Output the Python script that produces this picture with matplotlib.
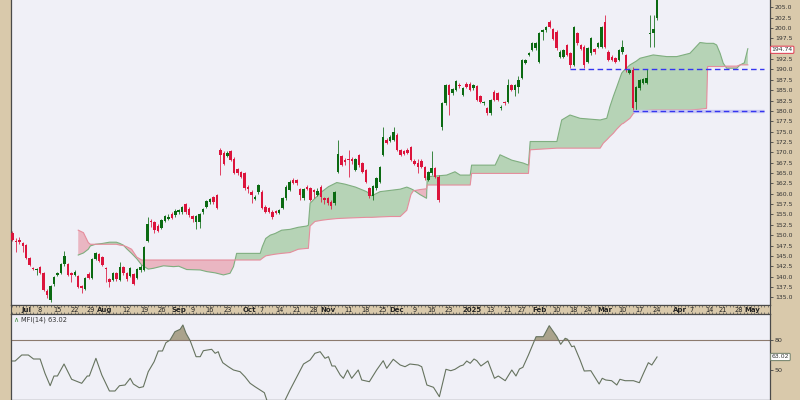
import numpy as np
import pandas as pd
import matplotlib
matplotlib.use('Agg')
import matplotlib.pyplot as plt

# trading calendar
start_date = '2024-06-25'
holidays = ['2024-07-04', '2024-09-02', '2024-11-28', '2024-12-25', '2025-01-01',
            '2025-01-09', '2025-01-20', '2025-02-17', '2025-04-18', '2025-05-26']

# daily candles (idx 0 = 2024-06-25)
opens = [150.6, 148.7, 148.9, 148.1, 147.6, 144.5, 142.0, 141.5, 142.4, 140.8,
         136.6, 134.4, 138.1, 140.4, 140.9, 143.0, 143.0, 140.9, 140.5, 140.1,
         137.7, 137.0, 140.6, 139.6, 144.2, 145.4, 144.7, 142.1, 139.3, 139.2,
         140.8, 139.2, 142.2, 140.8, 140.1, 140.6, 139.6, 141.5, 141.6, 148.7,
         153.3, 153.2, 152.3, 151.7, 153.5, 154.0, 155.0, 154.8, 155.5, 155.5,
         157.4, 156.4, 154.6, 153.2, 153.2, 155.5, 156.9, 157.9, 159.1, 159.7,
         170.6, 169.9, 169.1, 170.2, 168.5, 165.9, 165.3, 164.9, 161.7, 160.5,
         158.7, 160.3, 160.5, 156.9, 156.5, 155.7, 155.8, 155.3, 156.5, 158.9,
         160.9, 163.3, 163.3, 161.1, 158.9, 161.7, 161.3, 160.8, 159.7, 161.7,
         158.9, 158.9, 158.1, 157.7, 165.2,
         169.1, 168.2, 168.3, 168.5, 165.7, 169.4, 167.3, 165.7, 161.3, 159.5,
         161.3, 162.9, 169.4, 173.0, 172.8, 173.0, 174.2, 170.6, 170.2, 170.6,
         171.2, 168.0, 167.5, 168.0, 166.4, 163.3, 164.9, 166.1, 164.1, 176.2,
         181.8, 186.2, 184.2, 185.0, 186.3, 183.8, 186.6, 186.6, 185.4, 185.9,
         183.6, 181.8, 180.6, 179.4, 184.6, 184.2, 180.6, 182.2, 182.2,
         186.3, 185.0, 185.7, 187.9, 191.6, 193.5, 194.7, 195.1, 191.9, 199.1,
         199.4, 201.5, 199.7, 199.1, 193.1, 193.1, 195.9, 193.9, 191.1, 198.7,
         195.9, 195.5, 191.9, 193.9, 194.9, 195.5, 195.5, 201.5, 194.3, 193.1,
         192.7, 192.3, 194.1, 193.5, 189.2, 189.9, 182.2, 185.4, 186.7, 186.7,
         198.5, 198.9, 202.3]
highs = [151.0, 149.2, 149.5, 148.4, 147.9, 144.8, 142.3, 142.0, 142.6, 141.0,
         136.9, 138.0, 140.2, 141.2, 143.3, 146.2, 143.3, 141.2, 141.5, 140.4,
         138.0, 139.9, 141.0, 144.5, 146.0, 145.8, 145.0, 142.4, 139.6, 141.2,
         141.1, 143.5, 142.5, 141.0, 142.4, 140.9, 142.0, 142.7, 147.5, 154.5,
         153.8, 153.5, 152.6, 154.0, 154.9, 155.0, 155.5, 156.2, 156.3, 157.0,
         157.8, 156.7, 154.9, 154.9, 155.3, 156.6, 158.6, 159.0, 159.4, 160.0,
         171.0, 170.3, 170.2, 170.6, 168.9, 166.2, 165.6, 165.2, 162.0, 160.8,
         159.6, 162.4, 160.8, 157.2, 156.8, 156.0, 156.1, 156.4, 159.2, 162.0,
         163.2, 163.8, 163.6, 161.4, 161.4, 162.2, 161.6, 161.1, 161.4, 162.0,
         159.2, 159.2, 158.4, 160.6, 173.0,
         169.4, 168.6, 170.6, 168.9, 168.6, 169.7, 167.6, 166.0, 161.6, 162.1,
         164.0, 166.8, 176.2, 173.4, 174.1, 176.2, 174.6, 170.9, 170.5, 171.0,
         171.6, 168.3, 168.5, 168.3, 166.7, 165.6, 170.2, 166.4, 164.4, 182.1,
         186.5, 186.6, 185.5, 187.4, 186.8, 185.7, 187.0, 186.9, 186.5, 186.2,
         183.9, 182.5, 180.9, 182.9, 185.0, 184.5, 181.3, 182.5, 187.8,
         186.6, 186.6, 188.3, 192.6, 192.6, 194.2, 196.6, 196.6, 199.0, 199.8,
         200.6, 201.9, 200.0, 199.4, 194.6, 195.0, 196.2, 194.2, 200.6, 199.0,
         196.2, 195.8, 195.4, 197.8, 195.2, 196.6, 200.6, 203.1, 194.6, 193.4,
         193.0, 195.0, 197.0, 193.8, 190.2, 190.5, 186.1, 187.8, 188.0, 190.1,
         203.1, 203.1, 212.0]
lows = [148.6, 146.0, 147.8, 146.0, 144.3, 142.6, 141.5, 140.4, 140.6, 136.4,
        134.8, 133.9, 137.8, 140.1, 140.7, 142.6, 140.1, 138.8, 140.2, 137.3,
        136.0, 136.8, 139.3, 139.4, 143.9, 143.4, 142.5, 138.8, 137.6, 138.9,
        139.0, 139.0, 140.5, 139.0, 139.8, 137.9, 139.3, 141.2, 141.3, 148.4,
        152.0, 150.6, 150.8, 151.4, 153.2, 153.7, 153.9, 154.5, 155.2, 155.2,
        155.2, 154.5, 153.1, 151.5, 151.8, 155.2, 156.6, 157.6, 157.6, 156.3,
        164.5, 166.9, 168.8, 167.8, 164.8, 164.6, 163.7, 161.0, 160.2, 157.7,
        158.4, 160.0, 156.2, 155.4, 155.4, 153.8, 155.1, 155.0, 156.2, 158.6,
        160.6, 162.4, 162.2, 158.5, 158.6, 160.8, 158.2, 159.0, 159.4, 158.0,
        157.6, 157.2, 156.4, 157.2, 164.9,
        166.6, 167.0, 164.1, 167.2, 165.4, 166.5, 165.0, 162.6, 159.0, 158.5,
        161.0, 162.6, 169.0, 172.0, 172.5, 172.7, 170.3, 169.1, 169.3, 169.5,
        167.9, 166.9, 165.0, 166.1, 163.4, 163.0, 164.6, 163.7, 158.0, 175.4,
        181.5, 179.0, 183.9, 184.7, 185.6, 183.5, 185.5, 184.7, 185.1, 182.3,
        181.9, 181.5, 179.1, 179.1, 182.3, 182.3, 180.3, 181.5, 181.8,
        184.7, 183.5, 184.2, 187.6, 191.3, 193.2, 194.4, 194.8, 191.6, 197.0,
        199.1, 199.9, 197.0, 194.8, 192.8, 192.8, 193.2, 190.3, 190.8, 196.0,
        194.6, 190.3, 191.6, 193.6, 193.8, 195.2, 195.2, 195.2, 192.0, 192.0,
        191.6, 192.0, 193.8, 189.5, 188.9, 180.0, 180.0, 185.1, 186.4, 186.4,
        195.5, 195.5, 202.0]
closes = [148.9, 148.4, 148.3, 147.3, 144.6, 142.9, 141.8, 141.8, 140.9, 136.7,
          135.5, 137.7, 139.9, 140.9, 143.0, 145.0, 140.4, 140.3, 141.2, 137.6,
          137.2, 139.6, 139.6, 144.2, 145.6, 143.8, 142.8, 141.8, 138.8, 140.9,
          139.3, 142.2, 140.8, 139.3, 142.0, 138.2, 141.8, 142.4, 147.2, 152.6,
          153.1, 151.2, 151.1, 153.7, 154.6, 154.5, 154.2, 155.9, 156.0, 156.7,
          155.5, 154.8, 153.8, 154.6, 155.0, 156.3, 158.3, 158.7, 157.9, 156.6,
          169.4, 167.2, 169.9, 168.1, 165.1, 164.9, 164.0, 161.3, 161.1, 159.7,
          159.1, 162.1, 156.5, 155.7, 155.7, 154.3, 155.4, 156.1, 158.9, 161.7,
          162.9, 162.7, 162.5, 159.7, 161.1, 161.1, 158.5, 160.3, 160.7, 159.3,
          158.5, 157.7, 157.0, 160.3, 169.6,
          166.9, 167.6, 168.1, 167.8, 168.3, 167.0, 165.3, 162.9, 159.5, 161.8,
          163.7, 166.5, 173.8, 172.3, 173.8, 175.0, 170.6, 169.4, 169.6, 169.8,
          168.2, 167.2, 166.5, 166.4, 163.7, 165.3, 166.1, 164.0, 158.5, 181.8,
          186.2, 183.8, 185.2, 187.1, 186.1, 185.4, 185.8, 185.0, 186.2, 182.6,
          182.2, 182.2, 179.4, 182.6, 182.6, 182.6, 181.0, 181.8, 186.3,
          185.0, 186.3, 187.5, 192.3, 192.3, 193.9, 196.3, 196.3, 198.7, 199.5,
          200.3, 200.2, 197.3, 195.1, 194.3, 194.7, 193.5, 191.1, 200.3, 196.3,
          194.9, 191.1, 195.1, 197.5, 194.1, 196.3, 200.3, 195.5, 192.3, 192.3,
          191.9, 194.7, 195.3, 189.9, 189.9, 180.6, 185.8, 187.5, 187.7, 187.9,
          198.9, 199.7, 210.0]

# Ichimoku cloud (already shifted 26 days forward), read at these day positions
cloud_idx = [19.0, 20.5, 21.9, 22.5, 24, 26, 28, 30, 31, 32, 33, 34.4, 35.9, 37.3,
             39.2, 40.7, 43.6, 46.5, 48, 50.3, 54.2, 56.1, 58.5, 60.9, 62.8, 63.8,
             64.7, 71.5, 72.1, 73.1, 74.4, 75.8, 77.7, 80.1, 82.5, 84.9, 85.4, 85.9,
             87.3, 89.3, 91.2, 93.6, 96, 99, 102.2, 103.7, 106.1, 109, 111.9, 113.8,
             115.0, 115.7, 117.6, 119.5, 119.7, 125.3, 127.7, 129.2, 132.1, 132.5,
             139.3, 140.7, 144.1, 147.4, 148.9, 149.4, 157.1, 158.5, 160.9, 163.8,
             169.6, 170.5, 171.5, 172.4, 173.4, 174.4, 175.8, 176.3, 178.2, 179.2,
             180.0, 181.1, 184.9, 188.8, 191.7, 195.5, 198.4, 200.3, 200.6, 202.3,
             203.2, 204.2, 205.1, 206.1, 209.0, 210.0, 211.2, 212.2]
span_a = [145.2, 145.7, 146.6, 147.4, 147.8, 148.0, 148.3, 148.3, 148.0, 147.6, 146.7,
          145.6, 144.3, 142.8, 141.8, 142.0, 142.6, 142.4, 142.5, 141.7, 141.6, 141.2,
          140.9, 140.4, 140.8, 142.4, 145.6, 145.6, 147.2, 149.2, 150.0, 150.4, 151.2,
          151.4, 151.9, 152.2, 152.4, 157.7, 158.9, 160.5, 161.7, 162.7, 162.3, 161.6,
          160.5, 159.5, 160.5, 160.8, 161.1, 161.6, 161.2, 160.9, 159.8, 158.9, 164.1,
          164.5, 165.3, 164.5, 164.5, 166.9, 166.9, 169.4, 168.1, 167.4, 166.9, 172.6,
          172.6, 177.8, 179.0, 178.2, 177.8, 178.0, 178.2, 181.0, 183.5, 185.8, 189.1,
          189.6, 191.1, 191.6, 192.0, 192.7, 193.5, 193.1, 193.1, 193.9, 196.5, 196.3,
          196.3, 196.3, 195.9, 193.9, 191.5, 190.3, 190.3, 191.1, 191.6, 195.0]
span_b = [151.2, 150.6, 148.2, 147.8, 147.8, 147.8, 147.8, 147.8, 147.6, 147.5, 147.2,
          146.6, 144.7, 144.0, 144.0, 144.0, 144.0, 144.0, 144.0, 144.0, 144.0, 144.0,
          144.0, 144.0, 144.0, 144.0, 144.0, 144.0, 144.4, 145.0, 145.2, 145.4, 145.6,
          145.8, 146.6, 146.8, 146.8, 152.2, 153.3, 153.6, 153.8, 154.0, 154.1, 154.2,
          154.3, 154.3, 154.4, 154.5, 154.5, 156.0, 159.8, 160.7, 161.0, 161.2, 162.1,
          162.1, 162.1, 162.1, 162.1, 164.9, 164.9, 164.9, 164.9, 164.9, 164.9, 170.6,
          171.0, 171.0, 171.0, 171.0, 171.0, 172.2, 173.0, 173.8, 174.6, 175.6, 176.8,
          177.0, 178.2, 179.4, 179.8, 180.0, 180.2, 180.2, 180.2, 180.2, 180.4, 180.6,
          190.7, 190.7, 190.7, 190.7, 190.7, 190.8, 190.8, 191.1, 191.1, 191.1]
cloud_last = 194.74

# MFI(14) line vertices
mfi_idx = [0, 0.8, 2.7, 4.6, 6.1, 8.0, 9.4, 10.9, 12.0, 13.0, 14.9, 17.1, 20.0, 21.6,
           22.2, 24.1, 25.8, 28.0, 29.6, 30.9, 32.5, 34.0, 34.9, 36.6, 37.8, 39.2,
           40.9, 42.1, 43.3, 44.3, 45.5, 46.9, 48.4, 49.2, 50.1, 51.3, 53.0, 54.2,
           55.1, 57.5, 58.5, 59.4, 59.9, 60.7, 62.3, 63.8, 65.7, 67.1, 68.6, 70.0,
           71.5, 72.7, 73.4, 74.5, 76.5, 78.0, 78.7, 80.1, 82.1, 84.0, 85.9, 87.3,
           88.8, 90.2, 91.2, 92.2, 93.1, 94.6, 95.5, 96.7, 97.9, 99.8, 100.8, 103.0,
           105.1, 107.0, 108.0, 109.9, 111.9, 113.3, 114.7, 117.1, 118.1, 119.6,
           121.5, 123.2, 125.1, 126.5, 127.7, 129.2, 130.1, 131.1, 132.1, 133.2,
           134.0, 135.2, 137.2, 139.1, 140.2, 142.2, 144.1, 145.3, 146.3, 147.3,
           148.9, 151.1, 153.2, 154.9, 157.1, 158.2, 159.5, 160.2, 161.4, 162.1,
           163.8, 165.0, 166.9, 168.1, 169.3, 170.2, 171.2, 172.9, 174.4, 175.3,
           176.8, 179.2, 180.9, 182.1, 183.5, 184.5, 186.0]
mfi_val = [59, 59, 65, 65, 61, 61, 46.7, 34.3, 44, 44, 56, 40.7, 36.7, 44,
           44, 61.7, 45, 29, 29, 34.3, 35, 41.7, 36, 32.3, 33.3, 48.3,
           58.3, 69, 69, 77.3, 80, 88.3, 90.7, 95, 86.7, 79.3, 63.3, 63.3,
           69.3, 70.7, 66.7, 68.3, 63.3, 57.3, 53.3, 50, 48.3, 43.3, 36.7, 33.3,
           30, 27.3, 20, 15, 12, 15, 20, 30, 43.3, 56, 60, 66.7,
           68.3, 61.7, 63.3, 54, 54, 45, 41.7, 50, 41.7, 50, 40, 38.3,
           50, 59.3, 51.7, 60.7, 55, 53.3, 56, 55, 53.3, 35,
           32.7, 23.3, 50.7, 49.3, 50.7, 54, 55, 59, 56.7, 61,
           59.3, 54, 59, 41.7, 44, 39.3, 50, 44, 51, 52.7,
           65, 83.3, 83.3, 94.3, 83.3, 75.7, 81.7, 80.7, 73.3, 74,
           60, 49, 49.3, 42.7, 36, 41.7, 40, 39.3, 35, 40.7,
           39.3, 39.3, 37.3, 46.7, 57.3, 55, 63.02]
mfi_last = 63.02
mfi_level = 80

# horizontal support lines: price, first day, last day
level_price = [190.0, 180.0]
level_start = [161, 179]
level_end = [217, 217]

TAN = '#d9c9ab'
PANEL = '#f0f0f7'
UP = '#0b6a12'
DOWN = '#dc143c'

o = np.array(opens); h = np.array(highs); l = np.array(lows); c = np.array(closes)
x = np.arange(len(o))
up = c >= o
cols = np.where(up, UP, DOWN)

days = pd.bdate_range(start_date, periods=230, freq='C', holidays=holidays)
xmin, xmax = -0.4, 218.6

fig = plt.figure(figsize=(8, 4), dpi=100, facecolor=TAN)
ax = fig.add_axes([11 / 800, 95 / 400, 759 / 800, 305 / 400], facecolor=PANEL)
axd = fig.add_axes([11 / 800, 86 / 400, 759 / 800, 9 / 400], facecolor=TAN)
axm = fig.add_axes([11 / 800, 0, 759 / 800, 86 / 400], facecolor=PANEL)

# cloud
ca = np.array(span_a); cb = np.array(span_b)
ax.fill_between(cloud_idx, ca, cb, where=ca >= cb, interpolate=True,
                color='#b6d3b6', lw=0, zorder=1)
ax.fill_between(cloud_idx, ca, cb, where=ca < cb, interpolate=True,
                color='#eab6c2', lw=0, zorder=1)
ax.plot(cloud_idx, ca, color='#7fae7f', lw=0.8, zorder=1.5)
ax.plot(cloud_idx, cb, color='#e58d9c', lw=0.8, zorder=1.5)

# candles
ax.vlines(x, l, h, colors=cols, lw=0.7, alpha=0.8, zorder=2)
body = np.maximum(np.abs(c - o), 0.2)
ax.bar(x, body, width=0.72, bottom=np.minimum(o, c), color=cols, lw=0, zorder=3)

# support lines
for p, s, e in zip(level_price, level_start, level_end):
    if p < 185:
        ax.hlines(p, s, e, colors='#c9c9f3', lw=2.4, zorder=3.5)
    ax.hlines(p, s, e, colors='#3535f0', lw=1.0, linestyles=(0, (4, 2.5)), zorder=4)

ax.set_xlim(xmin, xmax)
ax.set_ylim(133.14, 206.76)
yt = np.arange(135, 205.1, 2.5)
ax.set_yticks(yt)
# the 195.0 label sits under the cloud value box
ax.set_yticklabels(['' if abs(v - 195.0) < 0.01 else '%.1f' % v for v in yt])
ax.yaxis.tick_right()
ax.tick_params(axis='y', right=True, left=False, direction='out', length=2.5,
               width=0.6, labelsize=4.4, labelcolor='#333333', pad=1, colors='#444444')
ax.set_xticks([])
for s in ['left', 'bottom', 'right']:
    ax.spines[s].set_color('#4a4a4a')
    ax.spines[s].set_linewidth(0.9)
ax.spines['top'].set_visible(False)

ax.annotate('%.2f' % cloud_last, xy=(1, cloud_last), xycoords=('axes fraction', 'data'),
            xytext=(1.2, 0), textcoords='offset points', ha='left', va='center',
            fontsize=4.4, color='#333333', zorder=10, annotation_clip=False,
            bbox=dict(boxstyle='round,pad=0.18', fc='white', ec='#e04a5c', lw=0.8))

# date band
axd.set_xlim(xmin, xmax)
axd.set_ylim(0, 1)
axd.set_yticks([])
axd.set_xticks(np.arange(0, 219), minor=True)
axd.set_xticks([])
axd.tick_params(which='minor', top=True, bottom=True, direction='in', length=1.3,
                width=0.5, color='#555555')
for s in axd.spines.values():
    s.set_color('#4a4a4a')
    s.set_linewidth(0.8)

month_pos, week_pos = [], []
for i in range(1, len(days)):
    d, p = days[i], days[i - 1]
    if i > xmax:
        break
    if d.month != p.month:
        month_pos.append(i)
    elif d.isocalendar()[1] != p.isocalendar()[1]:
        week_pos.append(i)
for i in month_pos:
    d = days[i]
    txt = str(d.year) if d.month == 1 else d.strftime('%b')
    crowded = any(0 < i - w <= 3 for w in week_pos)
    axd.text(i + (0.5 if crowded else 0), 0.45, txt, ha='center', va='center',
             fontsize=5.0, fontweight='bold', color='#222222')
for i in week_pos:
    gap = min(abs(i - m) for m in month_pos)
    if gap <= 2:
        continue
    shift = -0.5 if gap == 3 else 0
    axd.text(i + shift, 0.45, str(days[i].day), ha='center', va='center',
             fontsize=4.8, color='#222222')

# MFI panel
mv = np.array(mfi_val)
axm.fill_between(mfi_idx, mv, mfi_level, where=mv >= mfi_level, interpolate=True,
                 color='#aaa38c', lw=0, zorder=1)
axm.axhline(mfi_level, color='#8c7a6e', lw=0.8, zorder=1.5)
axm.plot(mfi_idx, mv, color='#66735f', lw=0.8, zorder=2)
axm.set_xlim(xmin, xmax)
axm.set_ylim(20, 106)
axm.set_xticks([])
axm.set_yticks([50, 80])
axm.yaxis.tick_right()
axm.tick_params(axis='y', right=True, left=False, direction='out', length=2.5,
                width=0.6, labelsize=4.6, labelcolor='#333333', pad=1, colors='#444444')
for s in ['left', 'top', 'right', 'bottom']:
    axm.spines[s].set_color('#4a4a4a')
    axm.spines[s].set_linewidth(0.9)
axm.text(0.003, 0.935, '\u2227', transform=axm.transAxes, fontsize=5, color='#3c8a3c',
         ha='left', va='center')
axm.text(0.013, 0.935, 'MFI(14) %.2f' % mfi_last, transform=axm.transAxes,
         fontsize=4.8, color='#333333', ha='left', va='center')
axm.annotate('%.2f' % mfi_last, xy=(1, mfi_last), xycoords=('axes fraction', 'data'),
             xytext=(1.2, 0), textcoords='offset points', ha='left', va='center',
             fontsize=4.4, color='#333333', zorder=10, annotation_clip=False,
             bbox=dict(boxstyle='round,pad=0.18', fc='white', ec='#7d8a74', lw=0.8))

fig.savefig('out.png', dpi=100, facecolor=TAN)
